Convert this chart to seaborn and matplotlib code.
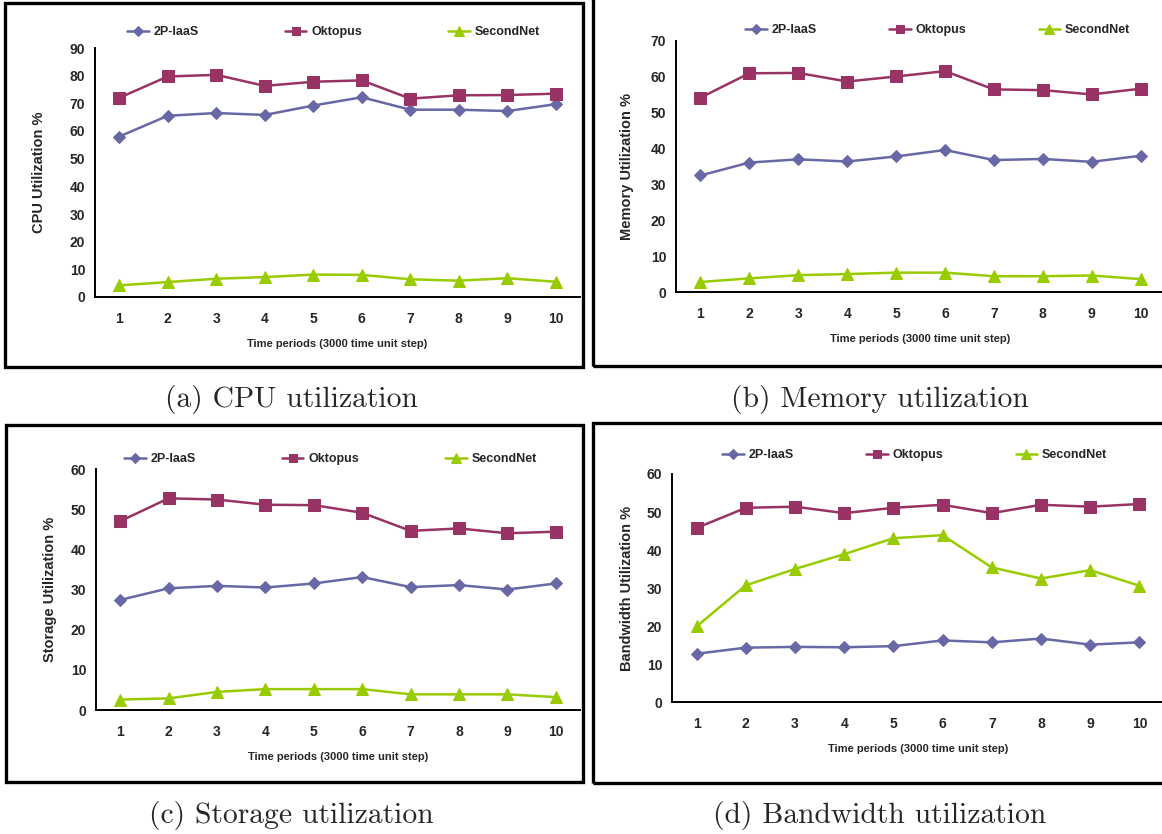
import numpy as np
import pandas as pd
import seaborn as sns
import matplotlib.pyplot as plt
from matplotlib.patches import Rectangle

periods = list(range(1, 11))
series_names = ["2P-IaaS", "Oktopus", "SecondNet"]

cpu_2p = [58, 65.5, 66.5, 65.8, 69.2, 72.2, 67.7, 67.7, 67.2, 69.7]
cpu_okt = [72, 79.7, 80.3, 76.3, 77.8, 78.3, 71.7, 72.9, 73, 73.5]
cpu_sn = [4.2, 5.4, 6.6, 7.2, 8.1, 8.0, 6.4, 5.9, 6.8, 5.5]

mem_2p = [32.5, 36.1, 37, 36.4, 37.8, 39.6, 36.8, 37.1, 36.3, 38]
mem_okt = [54.2, 61, 61.1, 58.7, 60.1, 61.6, 56.5, 56.3, 55.1, 56.7]
mem_sn = [2.8, 3.8, 4.7, 5.0, 5.4, 5.4, 4.4, 4.4, 4.6, 3.6]

sto_2p = [27.4, 30.3, 30.9, 30.5, 31.5, 33.1, 30.6, 31.1, 30, 31.5]
sto_okt = [47, 52.7, 52.4, 51.1, 51, 49.1, 44.6, 45.2, 44, 44.4]
sto_sn = [2.6, 2.9, 4.5, 5.2, 5.2, 5.2, 3.9, 3.9, 3.9, 3.2]

bw_2p = [12.7, 14.3, 14.5, 14.4, 14.7, 16.2, 15.7, 16.7, 15.1, 15.7]
bw_okt = [45.8, 51.1, 51.4, 49.7, 51.1, 51.9, 49.7, 51.9, 51.4, 52.1]
bw_sn = [19.9, 30.7, 35.0, 38.9, 43.1, 43.9, 35.4, 32.5, 34.7, 30.6]

ylabels = ["CPU Utilization %", "Memory Utilization %",
           "Storage Utilization %", "Bandwidth Utilization %"]
ymaxes = [90, 70, 60, 60]
captions = ["(a) CPU utilization", "(b) Memory utilization",
            "(c) Storage utilization", "(d) Bandwidth utilization"]

colors = {"2P-IaaS": "#6868a6", "Oktopus": "#993366", "SecondNet": "#99cc00"}
markers = {"2P-IaaS": "D", "Oktopus": "s", "SecondNet": "^"}
msizes = {"2P-IaaS": 6, "Oktopus": 8, "SecondNet": 8.5}

panels = [
    (cpu_2p, cpu_okt, cpu_sn),
    (mem_2p, mem_okt, mem_sn),
    (sto_2p, sto_okt, sto_sn),
    (bw_2p, bw_okt, bw_sn),
]

sns.set_style("white")
plt.rcParams["font.family"] = ["Liberation Sans", "DejaVu Sans"]
plt.rcParams["font.weight"] = "bold"

W, H = 1162, 834
fig = plt.figure(figsize=(W / 100, H / 100), dpi=100)


def px_axes(left, right, top, bottom):
    return fig.add_axes([left / W, 1 - bottom / H, (right - left) / W, (bottom - top) / H])


# axes boxes in pixel coordinates: left, right, top, bottom
axes_px = [(95, 580, 48, 297), (676, 1165, 41, 292),
           (96, 580, 469, 710), (672, 1164, 474, 702)]
frames_px = [(5, 583, 3, 367), (593, 1175, -5, 366),
             (6, 583, 425, 782), (593, 1175, 423, 783)]
legend_px = [(121, 32, 6.9), (739, 30, 5.8), (118, 459, 6.9), (716, 455, 5.8)]
ylabelpad = [17, 12, 10, 9]
caption_px = [(291, 400), (880, 400), (291, 815), (880, 815)]

for i, vals in enumerate(panels):
    ax = px_axes(*axes_px[i])
    df = pd.DataFrame({"period": periods * 3,
                       "value": vals[0] + vals[1] + vals[2],
                       "series": sum([[s] * 10 for s in series_names], [])})
    for s in series_names:
        sub = df[df["series"] == s]
        sns.lineplot(data=sub, x="period", y="value", ax=ax, label=s,
                     color=colors[s], marker=markers[s], markersize=msizes[s],
                     markeredgecolor=colors[s], linewidth=1.8)

    ax.set_xlim(0.5, 10.5)
    ax.set_ylim(0, ymaxes[i])
    ax.set_yticks(np.arange(0, ymaxes[i] + 1, 10))
    ax.set_xticks(periods)
    ax.set_xticks(np.arange(0.5, 11, 1), minor=True)
    ax.tick_params(axis="x", which="major", length=0, pad=11, labelsize=10)
    ax.tick_params(axis="x", which="minor", length=5, width=1.3, direction="out")
    ax.tick_params(axis="y", length=4, width=1.3, direction="out", pad=3, labelsize=10)
    for lab in ax.get_xticklabels() + ax.get_yticklabels():
        lab.set_fontweight("bold")

    for sp in ["top", "right"]:
        ax.spines[sp].set_visible(False)
    for sp in ["left", "bottom"]:
        ax.spines[sp].set_color("black")
        ax.spines[sp].set_linewidth(1.4)

    ax.set_xlabel("Time periods (3000 time unit step)", fontsize=8, fontweight="bold", labelpad=9)
    ax.set_ylabel(ylabels[i], fontsize=10.5, fontweight="bold", labelpad=ylabelpad[i])

    lx, ly, cs = legend_px[i]
    ax.legend(loc="center left", bbox_to_anchor=(lx / W, 1 - ly / H),
              bbox_transform=fig.transFigure, ncol=3, frameon=False,
              borderpad=0, columnspacing=cs, handlelength=1.7,
              handletextpad=0.4, markerscale=0.8,
              prop={"weight": "bold", "size": 9})

    fx0, fx1, fy0, fy1 = frames_px[i]
    fig.patches.append(Rectangle((fx0 / W, 1 - fy1 / H), (fx1 - fx0) / W, (fy1 - fy0) / H,
                                 transform=fig.transFigure, fill=False,
                                 edgecolor="black", linewidth=2.4))

    cx, cy = caption_px[i]
    fig.text(cx / W, 1 - cy / H, captions[i], ha="center", va="center",
             fontsize=21.3, family="cmr10", fontweight="normal")

fig.savefig("out.png", dpi=100, facecolor="white")
